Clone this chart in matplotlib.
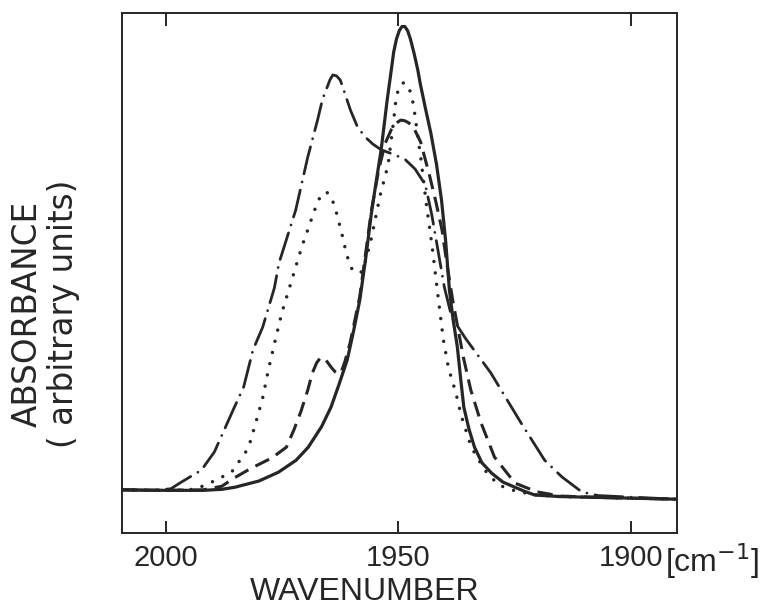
import matplotlib
matplotlib.use("Agg")
import matplotlib.pyplot as plt

# IR absorbance traces (wavenumber in cm-1, absorbance in axis units)
solid_wn = [2009.5, 2000, 1992, 1988, 1985.2, 1980, 1975.8, 1972, 1969.4, 1966.5, 1964.5,
            1962.8, 1961, 1959.6, 1958.3, 1957, 1955.8, 1954.7, 1953.7, 1952.4, 1951.6,
            1951, 1950.4, 1949.8, 1949.2, 1948.6, 1948.0, 1947.4, 1946.6, 1945.8, 1945.3,
            1944.2, 1943, 1941.8, 1940.7, 1939.8, 1939, 1938.2, 1937.3, 1936.5, 1935.9,
            1934.8, 1933.6, 1932, 1929.9, 1927.5, 1924.9, 1922.5, 1920.6, 1915, 1905, 1890]
solid_abs = [0.083, 0.082, 0.082, 0.084, 0.088, 0.100, 0.117, 0.140, 0.165, 0.205, 0.242,
             0.285, 0.333, 0.390, 0.448, 0.530, 0.615, 0.680, 0.737, 0.833, 0.885,
             0.925, 0.950, 0.966, 0.974, 0.974, 0.966, 0.950, 0.922, 0.890, 0.865,
             0.818, 0.769, 0.710, 0.640, 0.560, 0.467, 0.410, 0.358, 0.290, 0.242,
             0.200, 0.165, 0.135, 0.115, 0.098, 0.088, 0.079, 0.073, 0.070, 0.068, 0.065]

dotted_wn = [2009.5, 2000, 1995, 1993, 1990.6, 1985.9, 1982.3, 1980.7, 1979.2, 1978.0,
             1976.6, 1975.1, 1973.4, 1970.8, 1969.3, 1968.2, 1967.2, 1966.4, 1965.7,
             1965.0, 1964.4, 1963.3, 1962.2, 1961.2, 1960.5, 1959.9, 1959.0, 1958.0,
             1957.0, 1955.9, 1953.9, 1952.2, 1951.0, 1950.5, 1950.0, 1949.5, 1948.8,
             1948.1, 1947.4, 1946.9, 1946.5, 1945.1, 1943.9, 1942.7, 1941.8, 1940.3,
             1939.2, 1937.6, 1936.5, 1934.3, 1931.4, 1928.4, 1924.5, 1920, 1915, 1905, 1890]
dotted_abs = [0.083, 0.082, 0.083, 0.087, 0.096, 0.117, 0.163, 0.212, 0.260, 0.313,
              0.367, 0.423, 0.473, 0.550, 0.588, 0.617, 0.640, 0.652, 0.656,
              0.653, 0.646, 0.615, 0.577, 0.538, 0.518, 0.506, 0.500, 0.502,
              0.525, 0.563, 0.650, 0.708, 0.794, 0.835, 0.853, 0.863, 0.866,
              0.863, 0.848, 0.830, 0.808, 0.717, 0.627, 0.550, 0.481, 0.371,
              0.317, 0.269, 0.227, 0.165, 0.121, 0.092, 0.080, 0.073, 0.070, 0.068, 0.065]

dashed_wn = [2009.5, 2000, 1992, 1988, 1985.3, 1981.6, 1977.3, 1974.1, 1972.5, 1971.0,
             1969.5, 1968.5, 1967.6, 1966.8, 1966.0, 1965.3, 1964.4, 1963.6, 1962.8,
             1962.2, 1961.5, 1960.4, 1958.3, 1955.8, 1954.2, 1952.8, 1951.5, 1950.5,
             1949.5, 1948.7, 1948.0, 1946.9, 1945.2, 1943.3, 1942.0, 1940.6, 1939.5,
             1938.3, 1936.0, 1934.4, 1932.2, 1929.3, 1924.9, 1920.1, 1915, 1905, 1890]
dashed_abs = [0.083, 0.082, 0.083, 0.090, 0.106, 0.125, 0.144, 0.165, 0.198, 0.233,
              0.275, 0.308, 0.327, 0.337, 0.336, 0.329, 0.318, 0.310, 0.306,
              0.312, 0.330, 0.365, 0.455, 0.620, 0.700, 0.750, 0.776, 0.788,
              0.794, 0.793, 0.790, 0.783, 0.752, 0.688, 0.640, 0.583, 0.515,
              0.448, 0.338, 0.275, 0.212, 0.146, 0.096, 0.079, 0.071, 0.068, 0.065]

dashdot_wn = [2009.5, 2003, 1999, 1996.7, 1992.4, 1989.6, 1987.5, 1985.4, 1983.3, 1981.3,
              1979.2, 1976.7, 1975.7, 1972.1, 1969.5, 1967.4, 1966.3, 1965.3, 1964.7,
              1964.1, 1963.3, 1962.5, 1961.5, 1960.3, 1958.8, 1957.2, 1955.5, 1953.7,
              1950.7, 1948.5, 1946.4, 1944.2, 1942.8, 1941.2, 1940.1, 1938.5, 1935.6,
              1930.1, 1923.6, 1918.5, 1914.8, 1910.5, 1907, 1900, 1890]
dashdot_abs = [0.083, 0.082, 0.085, 0.098, 0.121, 0.156, 0.198, 0.240, 0.281, 0.352,
               0.396, 0.471, 0.519, 0.621, 0.723, 0.794, 0.835, 0.858, 0.872,
               0.881, 0.879, 0.871, 0.845, 0.813, 0.781, 0.762, 0.748, 0.737,
               0.727, 0.718, 0.700, 0.670, 0.612, 0.530, 0.473, 0.415, 0.375,
               0.308, 0.212, 0.140, 0.108, 0.079, 0.072, 0.069, 0.065]

tick_pos = [2000, 1950, 1900]
tick_labels = ["2000", "1950", "1900"]

ink = "#262626"
sans = ["Liberation Sans", "DejaVu Sans"]

fig = plt.figure(figsize=(7.71, 6.08), dpi=100)
ax = fig.add_axes([122 / 771, 1 - 533 / 608, 555 / 771, 520 / 608])

ax.plot(solid_wn, solid_abs, color=ink, lw=2.3, solid_joinstyle="round",
        solid_capstyle="round", zorder=4)
ax.plot(dotted_wn, dotted_abs, color=ink, lw=2.5, linestyle=(0, (0.01, 3.3)),
        dash_capstyle="round", zorder=3)
ax.plot(dashed_wn, dashed_abs, color=ink, lw=2.2, linestyle=(0, (5, 2.6)),
        dash_capstyle="butt", dash_joinstyle="round", zorder=3)
ax.plot(dashdot_wn, dashdot_abs, color=ink, lw=2.0, linestyle=(0, (10, 3, 0.01, 3)),
        dash_capstyle="round", dash_joinstyle="round", zorder=3)

ax.set_xlim(2009.5, 1890)
ax.set_ylim(0, 1)
for s in ax.spines.values():
    s.set_linewidth(1.4)
    s.set_color(ink)

ax.set_yticks([])
ax.set_xticks(tick_pos)
ax.set_xticklabels(tick_labels, family=sans, fontsize=21, color=ink)
ax.tick_params(axis="x", direction="in", top=True, length=9, width=1.4,
               color=ink, pad=8)

fig.text(665 / 771, 1 - 561 / 608, "[cm$^{-1}$]", family=sans, fontsize=23,
         color=ink, ha="left", va="center")
fig.text(365 / 771, 1 - 592 / 608, "WAVENUMBER", family=sans, fontsize=23,
         color=ink, ha="center", va="center")
fig.text(45 / 771, 1 - 314 / 608, "ABSORBANCE\n( arbitrary units)", family="DejaVu Sans",
         fontsize=23.5, color=ink, rotation=90, ha="center", va="center",
         linespacing=1.12, multialignment="center")

fig.savefig("out.png", dpi=100)
